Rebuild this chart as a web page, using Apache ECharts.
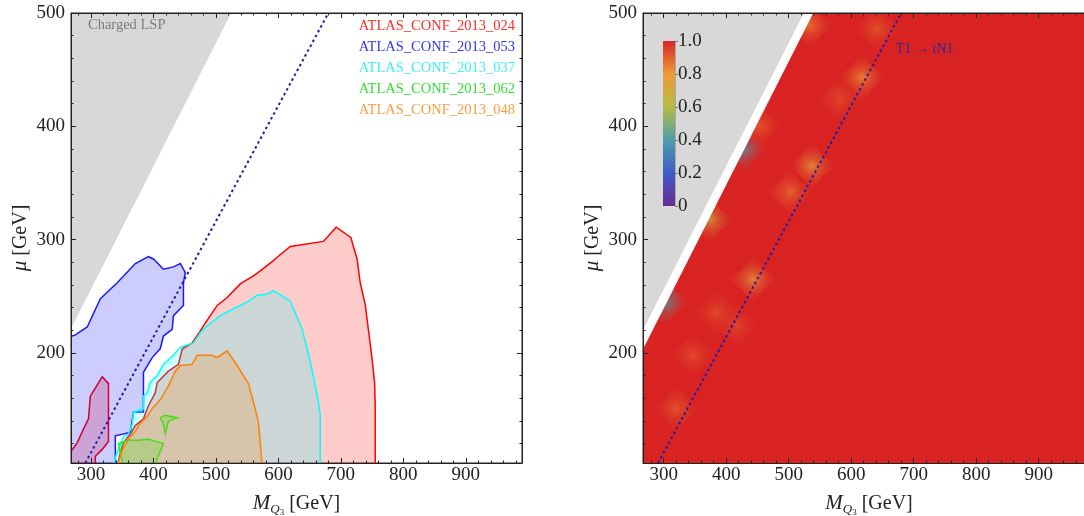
<!DOCTYPE html>
<html><head><meta charset="utf-8">
<script src="https://cdn.jsdelivr.net/npm/echarts@6/dist/echarts.min.js"></script>
<style>html,body{margin:0;padding:0;background:#fff}#c{width:1084px;height:516px}</style>
</head><body><div id="c"></div>
<script>
const FONT = '"Liberation Serif","DejaVu Serif",serif';

// ---------- tick values ----------
const xTickLabels = [300, 400, 500, 600, 700, 800, 900];
const xMinorTicks = [280, 300, 320, 340, 360, 380, 400, 420, 440, 460, 480, 500, 520, 540, 560, 580, 600, 620, 640, 660, 680, 700, 720, 740, 760, 780, 800, 820, 840, 860, 880, 900, 920, 940, 960, 980];
const yTickLabels = [200, 300, 400, 500];
const yMinorTicks = [120, 140, 160, 180, 200, 220, 240, 260, 280, 300, 320, 340, 360, 380, 400, 420, 440, 460, 480, 500];
const colorbarTicks = [0, 0.2, 0.4, 0.6, 0.8, 1.0];

// ---------- exclusion contours (M_Q3, mu) ----------
const atlas024_main = [[342,100],[347,112],[352,121],[363,128.5],[371,136],[384,142],[392,153.5],[403,165],[406,174],[424,184],[440,190],[446,203.5],[462,209],[475,219.5],[480,224],[491,233],[502,242],[518,249],[539,261],[560,268],[571,272.5],[592,281.5],[598,284.5],[619,294],[672,298.5],[692.5,311],[716,302],[726,283],[731,262],[739,243],[744,221],[750,195],[754,174],[755,155],[755,100]];
const atlas024_low = [[264,110],[278,121],[288,133],[296,142],[299,162],[318,179],[328,173],[328,122],[318,115],[307,109],[307,100],[264,100]];
const atlas053 = [[264,100],[264,214],[275,216],[294,223],[315,248],[342,262],[371,279],[392,285],[400,283],[416,274],[432,276],[443,279],[451,271],[448,262],[448,242],[432,233],[430,221],[416,215],[411,204],[398,196],[384,183],[384,148],[368,148],[363,130],[339,127],[339,100]];
const atlas037 = [[336,100],[339,108],[344,115],[352,126],[360,128.5],[366,137],[368,148],[384,151],[384,162],[390,165],[395,174],[406,180],[416,190],[432,198],[443,205],[464,209],[475,218],[486,224],[507,233],[528,239],[550,245],[566,251],[582,252],[592,255],[619,246],[638,221],[646,204],[656,180],[664,157],[667,145],[667,100]];
const atlas062_main = [[352,100],[347,112],[344,120],[358,123],[374,123],[392,124],[411,121],[416,120],[406,107],[403,100]];
const atlas062_small = [[411,143],[419,145],[438,143],[424,140],[419,129],[416,137]];
const atlas048 = [[342,100],[350,114],[360,124],[371,131],[379,138],[390,144],[398,151],[411,159],[424,171],[435,184],[443,189],[462,190],[470,198],[494,198],[502,196],[518,202],[534,189],[552,173],[560,157],[568,139],[571,121],[574,100]];

// ---------- region boundaries ----------
const chargedLSP = [[264,217],[264,505],[529,505]];
const noScanGap = [[264,200],[264,505],[544,505]];
const scanRegion = [[264,100],[264,505],[995,505],[995,100]];
const t1tn1Line = [[291,103],[680,500]];

// ---------- right panel: efficiency hot spots (M, mu, value) ----------
const hotspots = [[537,365,0.76],[502,342,0.86],[428,380,0.4],[454,400,0.9],[374,318,0.7],[443,265,0.76],[385,236,0.92],[303,245,0.4],[347,198,0.92],[321,151,0.9],[617,443,0.8],[641,486,0.9],[582,424,0.92],[534,489,0.84],[417,224,0.93]];

const scaleColors = ['#6a2a90','#3d5cc8','#4f9ea8','#b7bb46','#ed9a38','#da2424'];
const RED = '#d92323';

const X_MIN_L = 268, X_MIN_R = 267, X_MAX = 990, Y_MIN = 103, Y_MAX = 500;

function withPiece(pieces) {
  const out = [];
  pieces.forEach((p, k) => p.forEach(pt => out.push([pt[0], pt[1], k])));
  return out;
}

function polyRender(fill, stroke, lw) {
  return function (params, api) {
    const i = params.dataIndexInside;
    const piece = api.value(2, i);
    if (i > 0 && api.value(2, i - 1) === piece) return null;
    const pts = [];
    for (let j = i; j < params.dataInsideLength && api.value(2, j) === piece; j++) {
      pts.push(api.coord([api.value(0, j), api.value(1, j)]));
    }
    return { type: 'polygon', shape: { points: pts },
      style: { fill: fill, stroke: stroke || null, lineWidth: lw || 0 } };
  };
}

function contourSeries(name, pieces, fill, stroke) {
  return { type: 'custom', name: name, xAxisIndex: 0, yAxisIndex: 0, clip: true,
    data: withPiece(pieces), renderItem: polyRender(fill, stroke, 1.5), silent: true, z: 3 };
}

function frameAxes(dim, gridIndex, min, max, major, minor, withLabels, nameCfg) {
  const sides = dim === 'x' ? ['bottom', 'top'] : ['left', 'right'];
  const axes = [];
  sides.forEach((side, s) => {
    [true, false].forEach(isMajor => {
      const ax = {
        type: 'value', gridIndex: gridIndex, min: min, max: max, position: side, z: 10,
        axisLine: { show: isMajor, onZero: false, lineStyle: { color: '#222', width: 1 } },
        axisTick: { show: true, inside: true, length: isMajor ? 5 : 2.5,
          customValues: isMajor ? major : minor, lineStyle: { color: '#222', width: 1 } },
        axisLabel: { show: isMajor && s === 0 && withLabels, customValues: major,
          fontFamily: FONT, fontSize: 19, color: '#222', margin: dim === 'x' ? 3 : 6 },
        splitLine: { show: false }
      };
      if (isMajor && s === 0 && nameCfg) Object.assign(ax, nameCfg);
      axes.push(ax);
    });
  });
  return axes;
}

const xName = {
  name: '{i|M}{s|Q}{n|3}{t| [GeV]}', nameLocation: 'middle', nameGap: 27,
  nameTextStyle: { fontFamily: FONT, color: '#222', fontSize: 20,
    rich: { i: { fontFamily: FONT, fontStyle: 'italic', fontSize: 21, color: '#222' },
            s: { fontFamily: FONT, fontStyle: 'italic', fontSize: 13, color: '#222', padding: [12, 0, 0, 0] },
            n: { fontFamily: FONT, fontSize: 9, color: '#222', padding: [18, 0, 0, 0] },
            t: { fontFamily: FONT, fontSize: 20, color: '#222' } } }
};
const yName = {
  name: '{i|μ}{t| [GeV]}', nameLocation: 'middle', nameGap: 40, nameRotate: 90,
  nameTextStyle: { fontFamily: FONT, color: '#222', fontSize: 20,
    rich: { i: { fontFamily: FONT, fontStyle: 'italic', fontSize: 21, color: '#222' },
            t: { fontFamily: FONT, fontSize: 20, color: '#222' } } }
};

const chart = echarts.init(document.getElementById('c'), null, { renderer: 'canvas' });

const legendItems = [
  ['ATLAS_CONF_2013_024', '#ff2a2a'],
  ['ATLAS_CONF_2013_053', '#3535f0'],
  ['ATLAS_CONF_2013_037', '#3ef0f0'],
  ['ATLAS_CONF_2013_062', '#33e033'],
  ['ATLAS_CONF_2013_048', '#ff9a40']
];

const gridBase = { show: true, borderColor: '#222', borderWidth: 1, backgroundColor: 'transparent',
  containLabel: false, outerBoundsMode: 'none' };

const option = {
  animation: false,
  backgroundColor: '#fff',
  grid: [
    Object.assign({ left: 71, top: 13, width: 451, height: 450 }, gridBase),
    Object.assign({ left: 643, top: 13, width: 452, height: 450 }, gridBase),
    { left: 663, top: 41, width: 12, height: 165, show: false, containLabel: false, outerBoundsMode: 'none' }
  ],
  xAxis: [
    ...frameAxes('x', 0, X_MIN_L, X_MAX, xTickLabels, xMinorTicks, true, xName),
    ...frameAxes('x', 1, X_MIN_R, X_MAX, xTickLabels, xMinorTicks, true, xName),
    { type: 'category', gridIndex: 2, data: ['scale'], show: false }
  ],
  yAxis: [
    ...frameAxes('y', 0, Y_MIN, Y_MAX, yTickLabels, yMinorTicks, true, yName),
    ...frameAxes('y', 1, Y_MIN, Y_MAX, yTickLabels, yMinorTicks, true, yName),
    { type: 'value', gridIndex: 2, min: 0, max: 1, interval: 0.2, position: 'right', z: 10,
      axisLine: { show: true, lineStyle: { color: '#aaa' } },
      axisTick: { show: true, length: 3, lineStyle: { color: '#777' } },
      axisLabel: { fontFamily: FONT, fontSize: 19, color: '#222', margin: 3,
        formatter: v => (v === 0 ? '0' : v.toFixed(1)) },
      splitLine: { show: false } }
  ],
  legend: {
    orient: 'vertical', right: 564, top: 14, itemGap: 6, itemWidth: 0, itemHeight: 14,
    icon: 'rect', selectedMode: false,
    textStyle: { fontFamily: FONT, fontSize: 14.5 },
    data: legendItems.map(([n, c]) => ({ name: n, textStyle: { color: c, fontFamily: FONT, fontSize: 14.5 } }))
  },
  visualMap: {
    type: 'continuous', show: false, min: 0, max: 1, dimension: 2, seriesIndex: 10,
    inRange: { color: scaleColors }
  },
  graphic: [
    { type: 'text', left: 88, top: 18, z: 50, style: { text: 'Charged LSP', fontFamily: FONT, fontSize: 14.5, fill: '#7c7c7c' } },
    { type: 'text', left: 896, top: 42, z: 50, style: { text: 'T1 → tN1', fontFamily: FONT, fontSize: 14, fill: '#2a2a9c' } }
  ],
  series: [
    { type: 'custom', xAxisIndex: 0, yAxisIndex: 0, clip: true, silent: true, z: 1,
      data: withPiece([chargedLSP]), renderItem: polyRender('#d8d8d8') },
    contourSeries('ATLAS_CONF_2013_024', [atlas024_main, atlas024_low], 'rgba(255,0,0,0.2)', '#ff0000'),
    contourSeries('ATLAS_CONF_2013_053', [atlas053], 'rgba(0,0,255,0.2)', '#1a1aff'),
    contourSeries('ATLAS_CONF_2013_037', [atlas037], 'rgba(0,255,255,0.2)', '#00ffff'),
    contourSeries('ATLAS_CONF_2013_062', [atlas062_main, atlas062_small], 'rgba(0,255,0,0.2)', '#22ee22'),
    contourSeries('ATLAS_CONF_2013_048', [atlas048], 'rgba(255,128,0,0.2)', '#ff8000'),
    { type: 'line', xAxisIndex: 0, yAxisIndex: 0, data: t1tn1Line, showSymbol: false, silent: true, z: 6,
      lineStyle: { color: '#1c1caa', width: 2, type: [2.5, 3] } },
    { type: 'custom', xAxisIndex: 4, yAxisIndex: 4, clip: true, silent: true, z: 1,
      data: withPiece([scanRegion]), renderItem: polyRender(RED) },
    { type: 'custom', xAxisIndex: 4, yAxisIndex: 4, data: [], renderItem: () => null, silent: true },
    { type: 'custom', xAxisIndex: 4, yAxisIndex: 4, data: [], renderItem: () => null, silent: true },
    { type: 'custom', xAxisIndex: 4, yAxisIndex: 4, clip: true, silent: true, z: 2,
      data: hotspots,
      renderItem: function (params, api) {
        const c = api.coord([api.value(0), api.value(1)]);
        const col = api.visual('color');
        const r = 26, k = 0.4 * r;
        const x = c[0], y = c[1];
        return { type: 'polygon',
          shape: { points: [[x, y - r], [x + k, y - k], [x + r, y], [x + k, y + k], [x, y + r], [x - k, y + k], [x - r, y], [x - k, y - k]] },
          style: { opacity: 0.75, fill: { type: 'radial', x: 0.5, y: 0.5, r: 0.5,
            colorStops: [{ offset: 0, color: col }, { offset: 1, color: 'rgba(217,35,35,0)' }] } } };
      } },
    { type: 'custom', xAxisIndex: 4, yAxisIndex: 4, clip: true, silent: true, z: 3,
      data: withPiece([noScanGap]), renderItem: polyRender('#ffffff') },
    { type: 'custom', xAxisIndex: 4, yAxisIndex: 4, clip: true, silent: true, z: 4,
      data: withPiece([chargedLSP]), renderItem: polyRender('#d8d8d8') },
    { type: 'line', xAxisIndex: 4, yAxisIndex: 4, data: t1tn1Line, showSymbol: false, silent: true, z: 6,
      lineStyle: { color: '#1c1caa', width: 2, type: [2.5, 3] } },
    { type: 'bar', xAxisIndex: 8, yAxisIndex: 8, data: [1], barWidth: '100%', silent: true, z: 5,
      itemStyle: { color: { type: 'linear', x: 0, y: 1, x2: 0, y2: 0,
        colorStops: scaleColors.map((c, i) => ({ offset: i / (scaleColors.length - 1), color: c })) } } }
  ]
};
chart.setOption(option);
</script>
</body></html>
